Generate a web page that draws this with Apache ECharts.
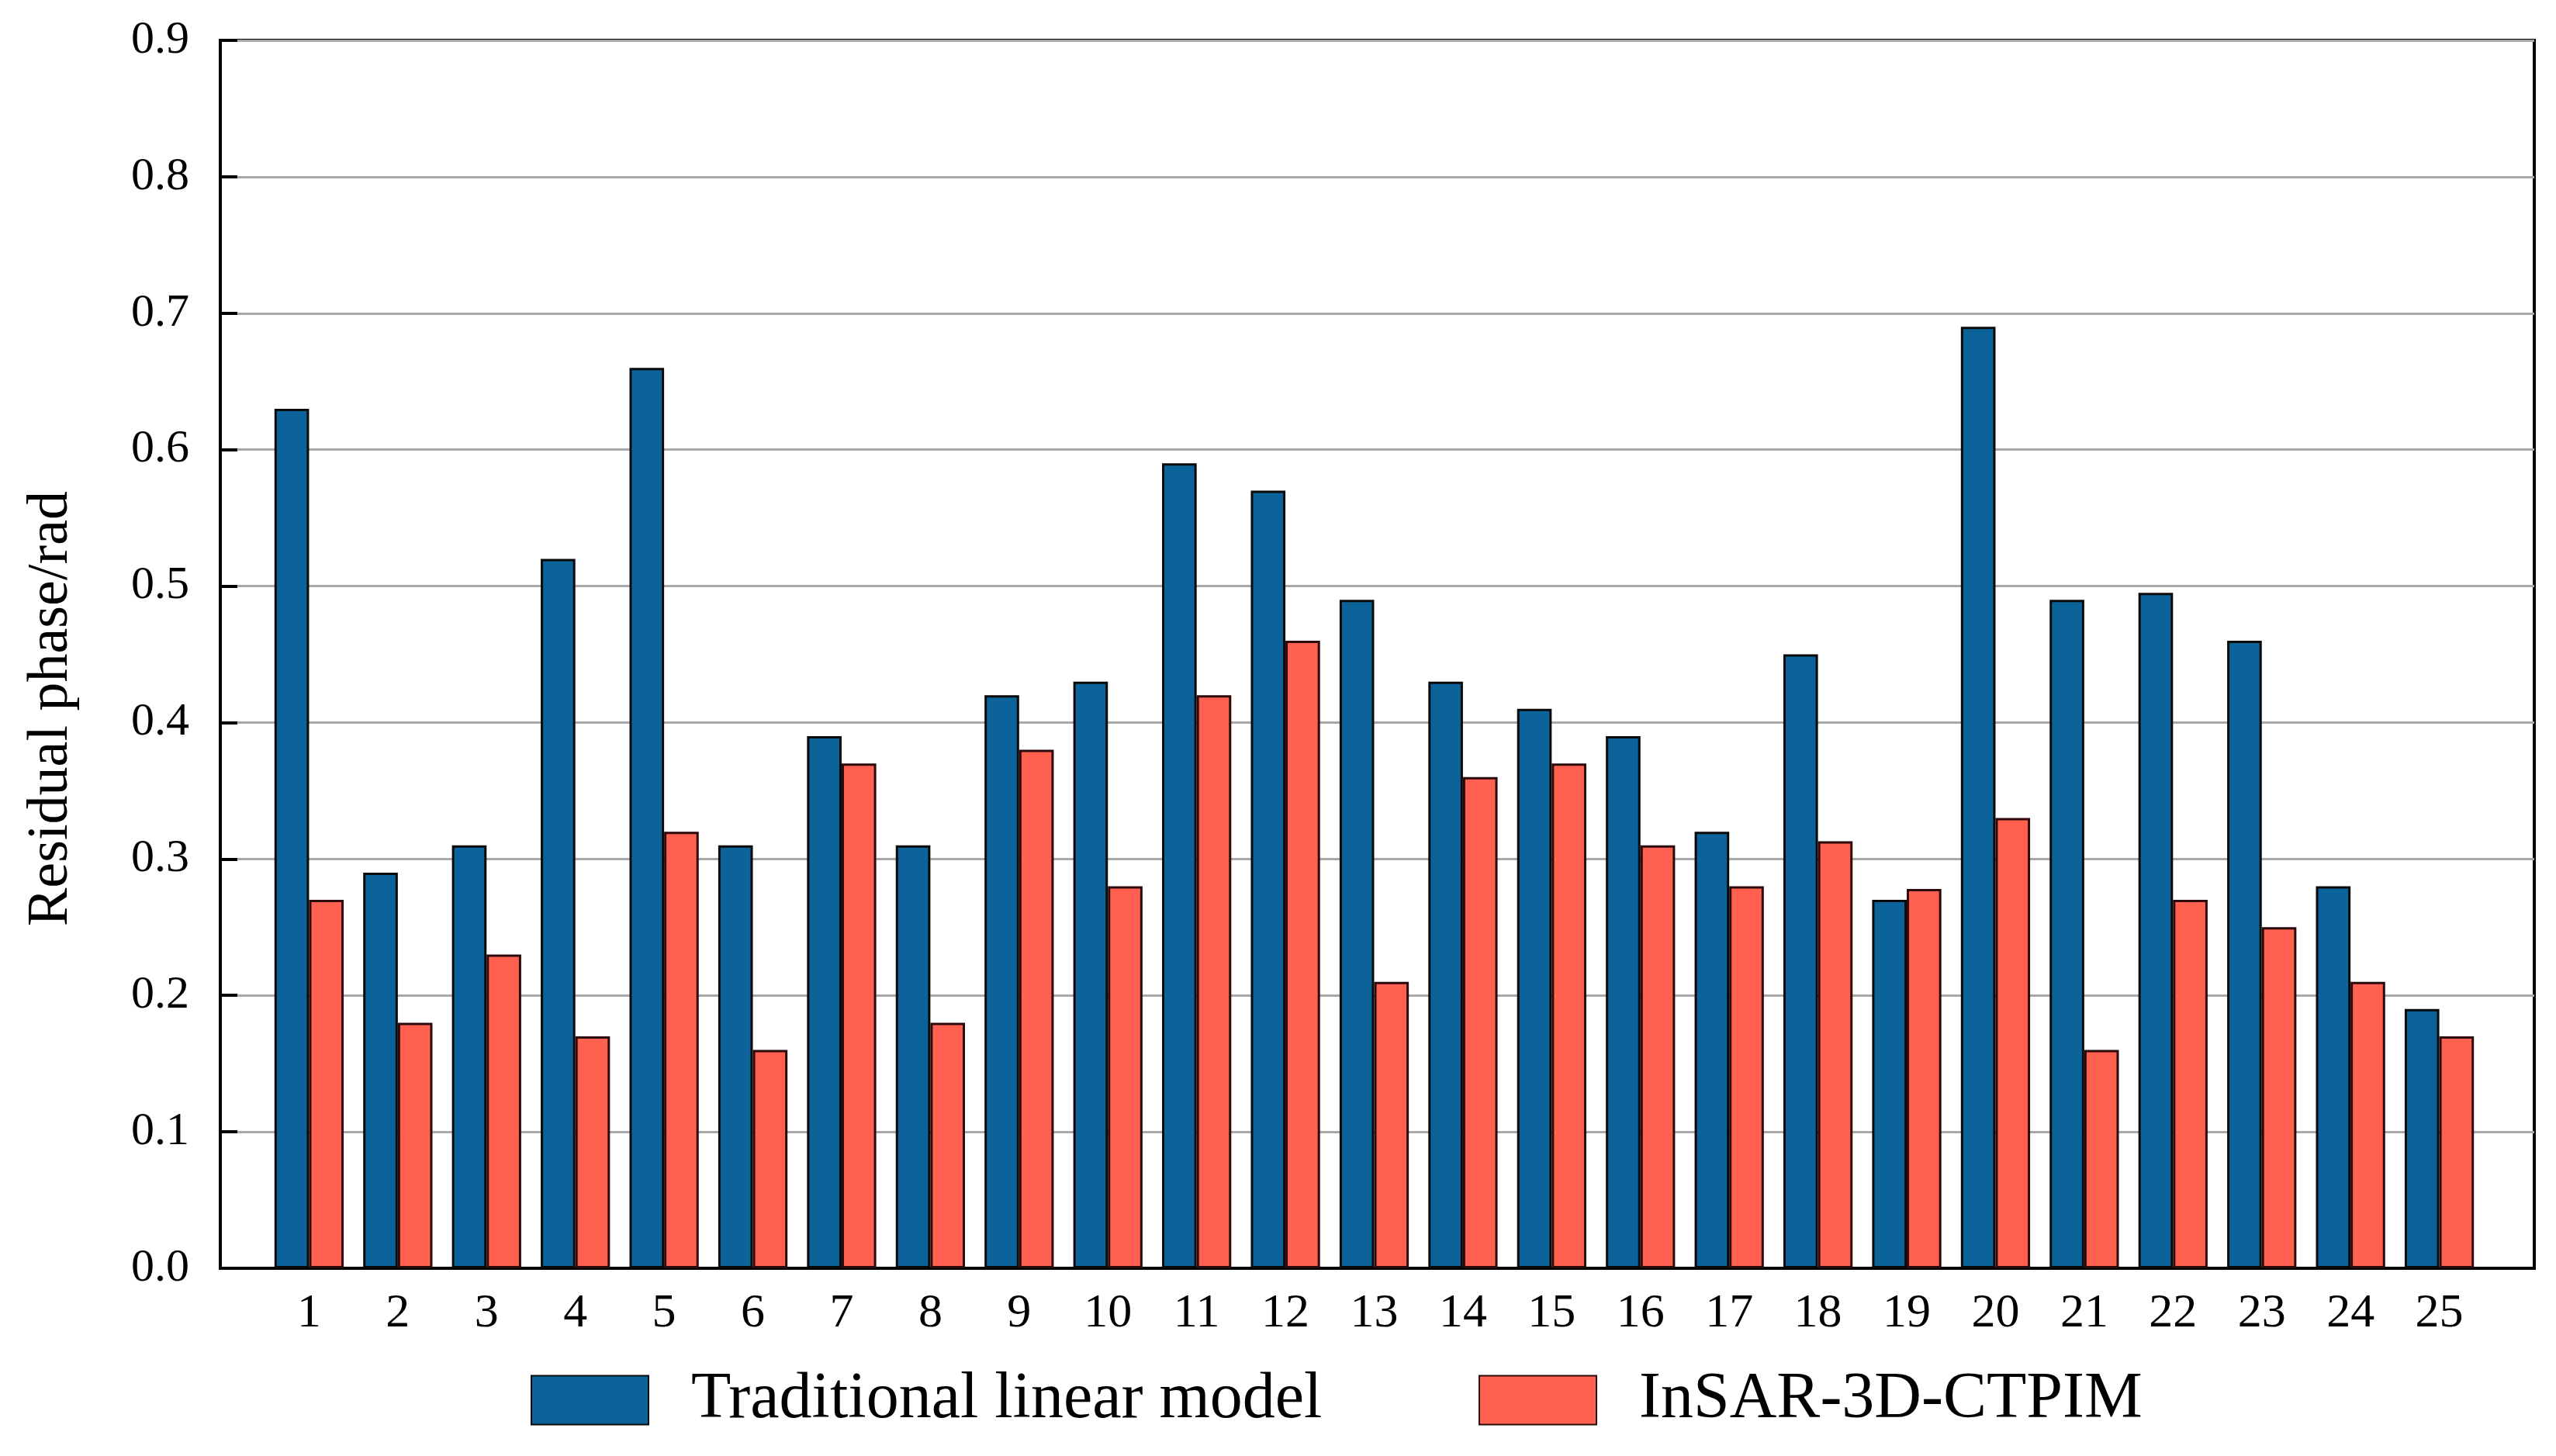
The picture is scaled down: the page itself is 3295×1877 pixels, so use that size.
<!DOCTYPE html>
<html>
<head>
<meta charset="utf-8">
<script src="https://cdn.jsdelivr.net/npm/echarts@6/dist/echarts.min.js"></script>
<style>
html,body{margin:0;padding:0;background:#fff;}
#chart{width:3295px;height:1877px;}
</style>
</head>
<body>
<div id="chart"></div>
<script>
const categories = [1,2,3,4,5,6,7,8,9,10,11,12,13,14,15,16,17,18,19,20,21,22,23,24,25];
const traditional = [0.63,0.29,0.31,0.52,0.66,0.31,0.39,0.31,0.42,0.43,0.59,0.57,0.49,0.43,0.41,0.39,0.32,0.45,0.27,0.69,0.49,0.495,0.46,0.28,0.19];
const ctpim = [0.27,0.18,0.23,0.17,0.32,0.16,0.37,0.18,0.38,0.28,0.42,0.46,0.21,0.36,0.37,0.31,0.28,0.313,0.278,0.33,0.16,0.27,0.25,0.21,0.17];
const yTicks = [0,0.1,0.2,0.3,0.4,0.5,0.6,0.7,0.8,0.9];
const seriesNames = ['Traditional linear model','InSAR-3D-CTPIM'];

const chart = echarts.init(document.getElementById('chart'), null, {renderer:'canvas'});
const serif = '"Liberation Serif","Times New Roman",serif';
const option = {
  backgroundColor:'#fff',
  animation:false,
  grid:{left:284,right:28,top:52,bottom:242,show:true,borderColor:'#000',borderWidth:4,backgroundColor:'transparent'},
  legend:[
    {data:[seriesNames[0]],left:679,top:1758,itemWidth:151,itemHeight:63,itemGap:0,icon:'rect',
     textStyle:{fontFamily:serif,fontSize:84,color:'#000',padding:[0,0,0,50]}},
    {data:[seriesNames[1]],left:1901,top:1758,itemWidth:151,itemHeight:63,itemGap:0,icon:'rect',
     textStyle:{fontFamily:serif,fontSize:84,color:'#000',padding:[0,0,0,50]}}
  ],
  xAxis:{
    type:'value',min:0,max:26.07,interval:1,
    axisLine:{show:true,lineStyle:{color:'#000',width:4}},
    axisTick:{show:false},
    splitLine:{show:false},
    axisLabel:{
      margin:28,fontFamily:serif,fontSize:62,color:'#000',
      showMaxLabel:false,
      formatter:function(v){return (Number.isInteger(v) && categories.indexOf(v)>=0)? String(v):'';}
    }
  },
  yAxis:{
    type:'value',min:0,max:0.9,interval:0.1,
    name:'Residual phase/rad',nameLocation:'middle',nameGap:180,
    nameTextStyle:{fontFamily:serif,fontSize:74,color:'#000',padding:[0,140,0,0]},
    axisLine:{show:true,lineStyle:{color:'#000',width:4}},
    axisTick:{show:true,inside:true,length:22,lineStyle:{color:'#000',width:4}},
    splitLine:{show:true,lineStyle:{color:'#a8a8a8',width:3}},
    axisLabel:{margin:40,fontFamily:serif,fontSize:60,color:'#000',
      formatter:function(v){return v.toFixed(1);}}
  },
  series:[
    {name:seriesNames[0],type:'bar',barWidth:'39%',barGap:'0%',
     data:categories.map((c,i)=>[c,traditional[i]]),
     itemStyle:{color:'#0c6399',borderColor:'#0a0a0a',borderWidth:3}},
    {name:seriesNames[1],type:'bar',barWidth:'39%',barGap:'0%',
     data:categories.map((c,i)=>[c,ctpim[i]]),
     itemStyle:{color:'#ff6050',borderColor:'#2a0a0a',borderWidth:3}}
  ]
};
chart.setOption(option);
</script>
</body>
</html>
